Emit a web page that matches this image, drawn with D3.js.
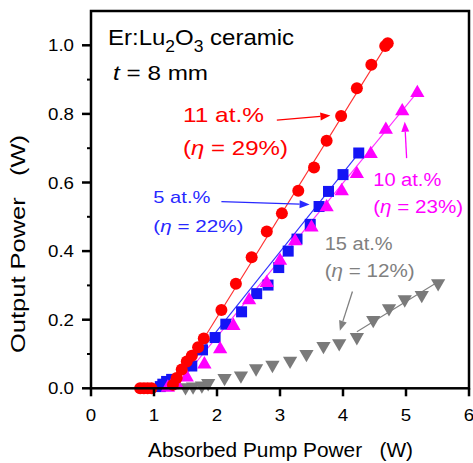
<!DOCTYPE html>
<html>
<head>
<meta charset="utf-8">
<script src="https://cdn.jsdelivr.net/npm/d3@7"></script>
<style>
  body { margin: 0; background: #fff; }
  text { font-family: "Liberation Sans", Arial, sans-serif; }
</style>
</head>
<body>
<script>
// data (absorbed pump power W, output power W)
const red11 = [[0.78,0],[0.84,0],[0.90,0],[0.96,0],[1.30,0.01],[1.36,0.03],[1.44,0.055],[1.52,0.078],[1.60,0.095],[1.70,0.12],[1.79,0.145],[2.07,0.228],[2.30,0.305],[2.55,0.382],[2.79,0.457],[3.03,0.51],[3.29,0.576],[3.54,0.644],[3.74,0.722],[3.97,0.794],[4.22,0.875],[4.45,0.943],[4.67,0.998],[4.71,1.006]];
const blue5 = [[1.10,0.005],[1.14,0.012],[1.20,0.02],[1.28,0.026],[1.60,0.065],[1.77,0.112],[1.97,0.148],[2.14,0.187],[2.39,0.223],[2.63,0.276],[2.81,0.301],[2.98,0.352],[3.13,0.40],[3.27,0.435],[3.48,0.478],[3.62,0.53],[3.77,0.574],[4.00,0.623],[4.25,0.686]];
const mag10 = [[1.22,0.005],[1.28,0.012],[1.36,0.015],[1.52,0.035],[1.80,0.073],[2.05,0.117],[2.26,0.185],[2.51,0.26],[2.79,0.31],[3.0,0.375],[3.24,0.432],[3.50,0.472],[3.74,0.531],[3.98,0.578],[4.22,0.628],[4.44,0.686],[4.68,0.757],[4.94,0.811],[5.18,0.864]];
const gray15 = [[1.50,0.003],[1.62,0.005],[1.76,0.008],[1.86,0.015],[2.12,0.03],[2.38,0.037],[2.62,0.058],[2.88,0.068],[3.16,0.08],[3.42,0.10],[3.69,0.123],[3.94,0.131],[4.22,0.149],[4.48,0.199],[4.73,0.233],[4.98,0.259],[5.25,0.272],[5.51,0.306]];

// linear fits (end points)
const redFit = [[1.30,0],[4.72,1.01]];
const blueFit = [[1.27,0],[4.27,0.69]];
const magFit = [[1.33,0],[5.2,0.868]];
const grayFit = [[4.22,0.165],[5.55,0.315]];

const xTicks = [0,1,2,3,4,5,6];
const yTicks = [0,0.2,0.4,0.6,0.8,1.0];
const yMinor = [0.1,0.3,0.5,0.7,0.9];

const W = 473, H = 463;
const x = d3.scaleLinear().domain([0,6]).range([91,469]);
const y = d3.scaleLinear().domain([0,1.1]).range([388.3,11]);

const svg = d3.select("body").append("svg")
  .attr("width", W).attr("height", H);

const line = d3.line().x(d => x(d[0])).y(d => y(d[1]));

// fit lines
[[redFit,"#ff3030"],[blueFit,"#3030ff"],[magFit,"#ff30ff"],[grayFit,"#808080"]].forEach(([d,c]) => {
  svg.append("path").attr("d", line(d)).attr("fill","none")
    .attr("stroke", c).attr("stroke-width", 1.1);
});

const triUp = d3.symbol(d3.symbolTriangle, 88)();

// gray down triangles
svg.append("g").selectAll("path").data(gray15).enter().append("path")
  .attr("d", triUp)
  .attr("transform", d => `translate(${x(d[0])},${y(d[1])}) rotate(180)`)
  .attr("fill", "#7a7a7a");

// blue squares
svg.append("g").selectAll("rect").data(blue5).enter().append("rect")
  .attr("x", d => x(d[0]) - 5.5).attr("y", d => y(d[1]) - 5.5)
  .attr("width", 11).attr("height", 11)
  .attr("fill", "#1414f5");

// magenta triangles
svg.append("g").selectAll("path").data(mag10).enter().append("path")
  .attr("d", triUp)
  .attr("transform", d => `translate(${x(d[0])},${y(d[1]) + 1})`)
  .attr("fill", "#ff00ff");

// red circles
svg.append("g").selectAll("circle").data(red11).enter().append("circle")
  .attr("cx", d => x(d[0])).attr("cy", d => y(d[1]))
  .attr("r", 6).attr("fill", "#ff0000");

// axes box + ticks
const ax = svg.append("g").attr("stroke", "#000");
ax.selectAll("line.xt").data(xTicks).enter().append("line")
  .attr("x1", d => x(d)).attr("x2", d => x(d))
  .attr("y1", y(0)).attr("y2", y(0) + 8).attr("stroke-width", 2.5);
ax.selectAll("line.yt").data(yTicks).enter().append("line")
  .attr("x1", x(0) - 9).attr("x2", x(0))
  .attr("y1", d => y(d)).attr("y2", d => y(d)).attr("stroke-width", 2.5);
ax.selectAll("line.ym").data(yMinor).enter().append("line")
  .attr("x1", x(0) - 4).attr("x2", x(0))
  .attr("y1", d => y(d)).attr("y2", d => y(d)).attr("stroke-width", 2);
svg.append("rect")
  .attr("x", x(0)).attr("y", y(1.1))
  .attr("width", x(6) - x(0)).attr("height", y(0) - y(1.1))
  .attr("fill", "none").attr("stroke", "#000").attr("stroke-width", 2.5);

// tick labels
svg.append("g").selectAll("text").data(xTicks).enter().append("text")
  .attr("x", d => x(d)).attr("y", 421)
  .attr("text-anchor", "middle").attr("font-size", 17)
  .attr("transform", d => `translate(${x(d)},0) scale(1.1,1) translate(${-x(d)},0)`)
  .text(d => d);
svg.append("g").selectAll("text").data(yTicks).enter().append("text")
  .attr("x", 74).attr("y", d => y(d) + 6)
  .attr("text-anchor", "end").attr("font-size", 17)
  .attr("textLength", 26).attr("lengthAdjust", "spacingAndGlyphs")
  .text(d => d.toFixed(1));

// axis titles
svg.append("text").attr("x", 148).attr("y", 457)
  .attr("font-size", 19.5).attr("textLength", 265).attr("lengthAdjust", "spacingAndGlyphs")
  .attr("xml:space", "preserve")
  .text("Absorbed Pump Power   (W)");
svg.append("text").attr("transform", "translate(25,353) rotate(-90)")
  .attr("font-size", 20).attr("textLength", 218).attr("lengthAdjust", "spacingAndGlyphs")
  .attr("xml:space", "preserve")
  .text("Output Power   (W)");

// title
const t1 = svg.append("text").attr("x", x(0.27)).attr("y", y(1.001))
  .attr("font-size", 22).attr("textLength", 186).attr("lengthAdjust", "spacingAndGlyphs");
t1.append("tspan").text("Er:Lu");
t1.append("tspan").attr("font-size", 16).attr("dy", 7).text("2");
t1.append("tspan").attr("dy", -7).text("O");
t1.append("tspan").attr("font-size", 16).attr("dy", 7).text("3");
t1.append("tspan").attr("dy", -7).text(" ceramic");

const t2 = svg.append("text").attr("x", x(0.35)).attr("y", y(0.899))
  .attr("font-size", 21).attr("textLength", 95).attr("lengthAdjust", "spacingAndGlyphs");
t2.append("tspan").attr("font-style", "italic").text("t");
t2.append("tspan").text(" = 8 mm");

// labels: [x, y, text, eta, font size, width, colour]
const labels = [
  [1.46, 0.777, "11 at.%", null, 21, 81, "#ff0000"],
  [1.46, 0.680, null, "29%", 21, 105, "#ff0000"],
  [0.99, 0.539, "5 at.%", null, 17, 57, "#2828ff"],
  [0.99, 0.457, null, "22%", 17, 90, "#2828ff"],
  [4.48, 0.591, "10 at.%", null, 18, 68, "#ff00ff"],
  [4.48, 0.510, null, "23%", 18, 90, "#ff00ff"],
  [3.71, 0.403, "15 at.%", null, 17.5, 68, "#808080"],
  [3.71, 0.325, null, "12%", 17.5, 90, "#808080"]
];
labels.forEach(([lx, ly, s, eta, fs, w, c]) => {
  const t = svg.append("text").attr("x", x(lx)).attr("y", y(ly))
    .attr("font-size", fs).attr("fill", c)
    .attr("textLength", w).attr("lengthAdjust", "spacingAndGlyphs");
  if (s) t.text(s);
  else {
    t.append("tspan").text("(");
    t.append("tspan").attr("font-style", "italic").text("\u03b7");
    t.append("tspan").text(" = " + eta + ")");
  }
});

// arrows: [from, to, colour]
const arrows = [
  [[2.95,0.782],[3.80,0.795],"#ff0000"],
  [[2.07,0.544],[3.47,0.536],"#2828ff"],
  [[5.01,0.671],[4.98,0.777],"#ff00ff"],
  [[4.15,0.282],[3.95,0.168],"#808080"]
];
arrows.forEach(([a, b, c]) => {
  const x1 = x(a[0]), y1 = y(a[1]), x2 = x(b[0]), y2 = y(b[1]);
  const ang = Math.atan2(y2 - y1, x2 - x1);
  const L = 10, hw = 4;
  const bx = x2 - L * Math.cos(ang), by = y2 - L * Math.sin(ang);
  svg.append("line").attr("x1", x1).attr("y1", y1).attr("x2", bx).attr("y2", by)
    .attr("stroke", c).attr("stroke-width", 1.3);
  svg.append("path")
    .attr("d", `M${x2},${y2}L${bx - hw*Math.sin(ang)},${by + hw*Math.cos(ang)}L${bx + hw*Math.sin(ang)},${by - hw*Math.cos(ang)}Z`)
    .attr("fill", c);
});
</script>
</body>
</html>
